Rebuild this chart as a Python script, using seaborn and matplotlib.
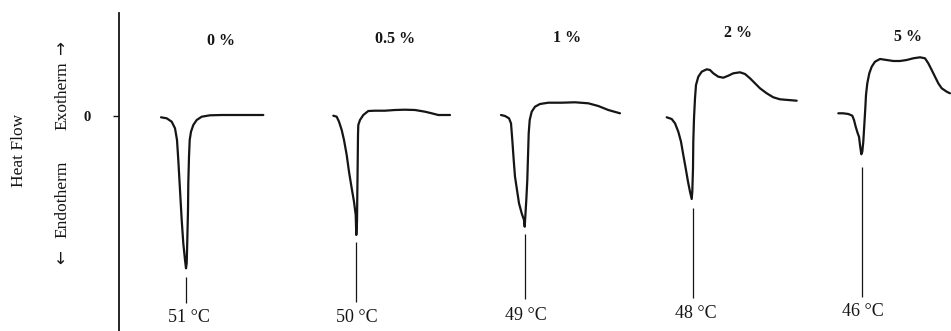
import numpy as np
import pandas as pd
import matplotlib
matplotlib.use("Agg")
import matplotlib.pyplot as plt
import seaborn as sns

# ---- data (x: scan position, arbitrary units; y: heat flow, arbitrary units, 0 = baseline)
labels_top = ["0 %", "0.5 %", "1 %", "2 %", "5 %"]
peak_labels = ["51 °C", "50 °C", "49 °C", "48 °C", "46 °C"]

x0 = [161, 166.7, 171.7, 175, 177, 178.3, 180, 181.7, 183.3, 185, 186, 186.7, 187.3, 188,
      188.3, 189, 189.7, 191, 193.3, 196.7, 201.7, 210, 221.7, 241.7, 263.3]
y0 = [-1.3, -2.3, -5.7, -12.3, -24, -44, -74, -104, -127.3, -144, -152.3, -147.3, -124, -94,
      -67.3, -40.7, -24, -15.7, -9, -4, -0.7, 0.7, 1, 1, 1]

x1 = [333.3, 336.7, 339, 341.7, 344, 346.7, 349, 351.7, 354, 355.7, 356.3, 357, 357.3, 357.7,
      358, 358.3, 360, 363.3, 368.3, 375, 385, 395, 405, 415, 425, 431.7, 438.3, 450]
y1 = [0.3, -0.7, -5.7, -14, -24, -39, -55.7, -72.3, -85.7, -99, -119, -105.7, -79, -45.7,
      -19, -9, -4, 1, 5, 5.3, 5.3, 6, 6.3, 6, 4.3, 2.7, 1, 1]

x2 = [501, 505, 509, 511, 512.3, 513.7, 515, 517, 519, 521.7, 524, 524.7, 525.3, 526.3, 527.3,
      528, 528.7, 529.7, 531.7, 535, 540, 548.3, 561.7, 575, 588.3, 598.3, 608.3, 620]
y2 = [1, 0, -2.3, -7.3, -24, -44, -60.7, -74, -87.3, -97.3, -104, -110.7, -100.7, -84, -64,
      -40.7, -17.3, -4, 4.3, 9.3, 12, 13.3, 13.3, 13.7, 12.7, 10, 6, 2.7]

x3 = [666.7, 671.7, 675, 678.3, 681, 683.3, 685.7, 688, 690, 691.7, 692.3, 693, 693.3, 694,
      695, 696, 698.3, 701.7, 706.7, 710, 713.3, 718.3, 723.3, 728.3, 733.3, 740, 745, 750,
      755, 760, 766.7, 773.3, 780, 788.3, 796.7]
y3 = [-1.3, -3, -7.3, -15.7, -25.7, -39, -52.3, -65.7, -75.7, -83, -75.7, -52.3, -25.7, -2.3,
      17.7, 31, 39.3, 44.3, 46.7, 46, 42.7, 39.3, 38.3, 40.3, 42.7, 43.7, 42, 37.7,
      32.7, 27.7, 22.7, 18.7, 16.7, 16, 15.3]

x4 = [838.3, 843.3, 848.3, 852.3, 854, 855.7, 857.7, 859, 860, 861.3, 862.3, 863.3, 864.3,
      865.3, 866, 867.3, 869.3, 871.7, 875, 880, 886.7, 893.3, 900, 906.7, 913.3, 920, 925,
      928.3, 931.7, 935, 938.3, 941.7, 946.7, 950]
y4 = [2.7, 2.7, 2, 0.3, -4, -10.7, -17.3, -20.7, -29, -38.3, -35.7, -25.7, -9,
      7.7, 21, 32.7, 42.7, 49.3, 54.3, 57, 56, 55, 55, 56, 57.7, 58.7, 57.7,
      52.7, 46, 39.3, 32.7, 27.7, 24.3, 22.7]

curves_x = [x0, x1, x2, x3, x4]
curves_y = [y0, y1, y2, y3, y4]

# peak marker lines (x, top, bottom) and label positions
peak_x = [186, 356.3, 524.5, 692.5, 862]
peak_line_top = [-161, -126, -118, -92, -51]
peak_line_bottom = [-187, -186, -183, -182, -181]
label_top_x = [221, 395, 567, 738, 908]
label_top_y = [75, 77, 78, 83, 79]
label_bot_x = [189, 357, 526, 696, 863]
label_bot_y = [-202, -202, -199, -197, -196]

# ---- figure
sns.set_theme(style="white")
plt.rcParams["font.family"] = ["Liberation Serif", "DejaVu Serif"]

W, H = 951, 331
fig = plt.figure(figsize=(W / 100, H / 100), dpi=100)
ax = fig.add_axes([119 / W, 0, (W - 119) / W, (H - 13) / H])
ax.set_facecolor("white")
fig.patch.set_facecolor("white")

ink = "#151515"
rows = []
for i, (xs, ys) in enumerate(zip(curves_x, curves_y)):
    rows.append(pd.DataFrame({"x": xs, "y": ys, "c": labels_top[i]}))
df = pd.concat(rows, ignore_index=True)
sns.lineplot(data=df, x="x", y="y", units="c", estimator=None, sort=False,
             color=ink, linewidth=1.6, ax=ax, legend=False,
             solid_joinstyle="round", solid_capstyle="round")

ax.vlines(peak_x, peak_line_bottom, peak_line_top, color=ink, linewidth=0.9)

for i in range(5):
    ax.text(label_top_x[i], label_top_y[i], labels_top[i], ha="center", va="center",
            fontsize=11.5, fontweight="bold", color=ink)
    ax.text(label_bot_x[i], label_bot_y[i], peak_labels[i], ha="center", va="center",
            fontsize=13, color=ink)

ax.set_xlim(119, 951)
ax.set_ylim(-215, 103)
ax.set_xlabel("")
ax.set_ylabel("")
ax.set_xticks([])
ax.set_yticks([0])
ax.set_yticklabels(["0"], fontsize=10.5, fontweight="bold", color=ink)
ax.tick_params(axis="y", direction="out", length=4, width=1, color=ink, pad=16, left=True)
for s in ["top", "right", "bottom"]:
    ax.spines[s].set_visible(False)
ax.spines["left"].set_color(ink)
ax.spines["left"].set_linewidth(1.3)

fig.text(19 / W, 1 - 150 / H, "Heat Flow", rotation=90, ha="center", va="center",
         fontsize=12.5, color=ink)
fig.text(62 / W, 1 - 96 / H, "Exotherm", rotation=90, ha="center", va="center",
         fontsize=12.5, color=ink)
fig.text(62 / W, 1 - 199 / H, "Endotherm", rotation=90, ha="center", va="center",
         fontsize=12.5, color=ink)
fig.text(62 / W, 1 - 48 / H, "\u2192", rotation=90, ha="center", va="center",
         fontsize=12, color=ink, family="DejaVu Sans")
fig.text(62 / W, 1 - 257 / H, "\u2190", rotation=90, ha="center", va="center",
         fontsize=12, color=ink, family="DejaVu Sans")

fig.savefig("out.png", dpi=100)
